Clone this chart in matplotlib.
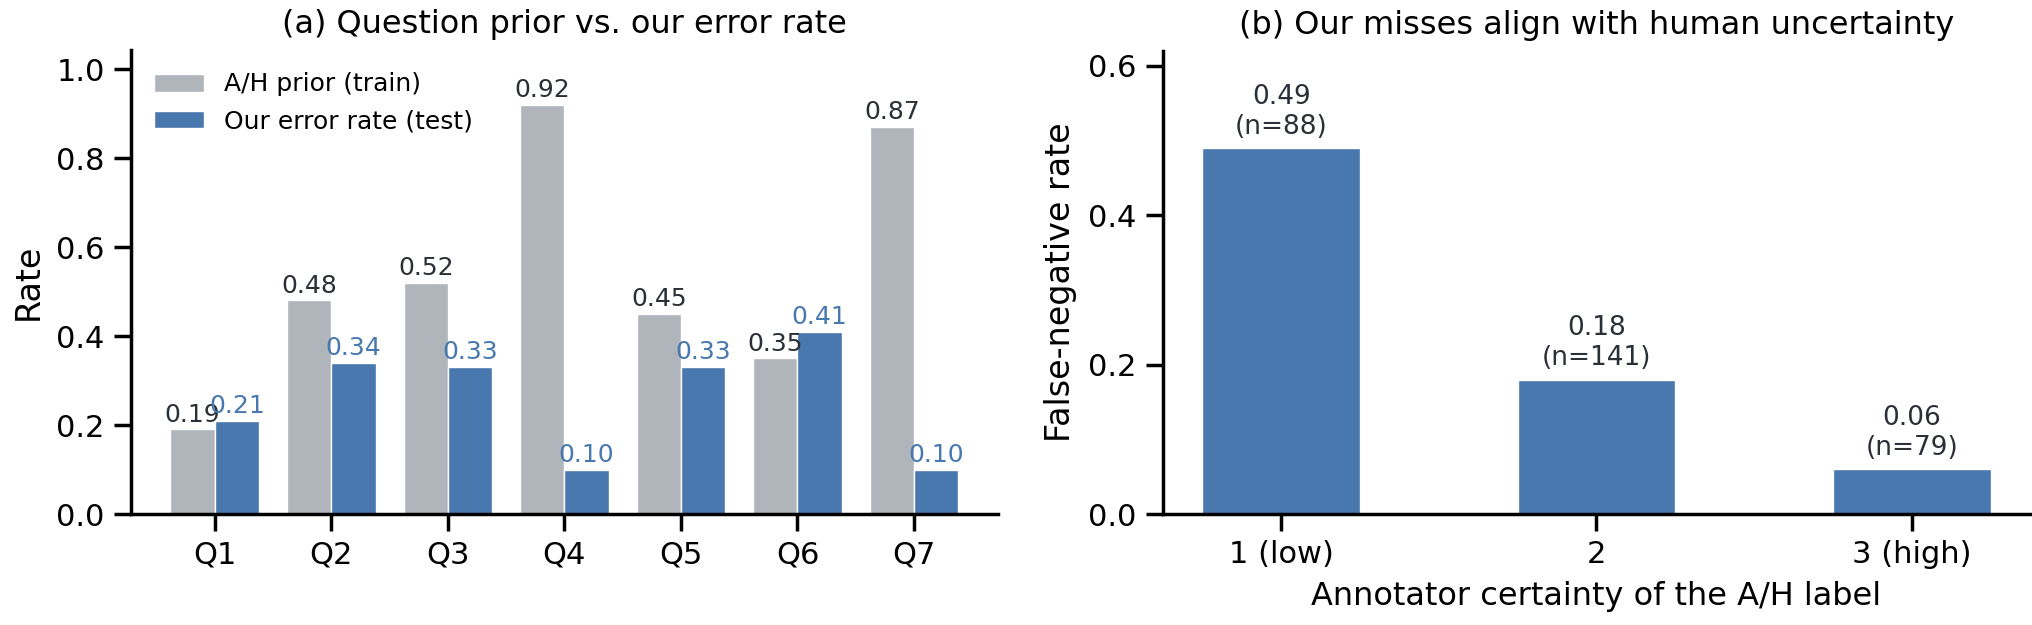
import numpy as np
import matplotlib
matplotlib.use("Agg")
import matplotlib.pyplot as plt

# data
questions = ["Q1", "Q2", "Q3", "Q4", "Q5", "Q6", "Q7"]
prior_train = [0.19, 0.48, 0.52, 0.92, 0.45, 0.35, 0.87]
err_test = [0.21, 0.34, 0.33, 0.10, 0.33, 0.41, 0.10]

certainty = ["1 (low)", "2", "3 (high)"]
fn_rate = [0.49, 0.18, 0.06]
n_items = [88, 141, 79]

GREY = "#b0b5bc"
BLUE = "#4878ae"
TXT = "#2b2f36"

plt.rcParams["font.family"] = "DejaVu Sans"
plt.rcParams["axes.linewidth"] = 1.25
plt.rcParams["xtick.major.size"] = 6
plt.rcParams["ytick.major.size"] = 6
plt.rcParams["xtick.major.width"] = 1.25
plt.rcParams["ytick.major.width"] = 1.25
plt.rcParams["xtick.labelsize"] = 11
plt.rcParams["ytick.labelsize"] = 11

fig = plt.figure(figsize=(10.16, 3.125), dpi=200)
ax1 = fig.add_axes([0.0645, 0.1776, 0.4265, 0.7424])
ax2 = fig.add_axes([0.5723, 0.1776, 0.4267, 0.7408])

# (a)
x = np.arange(len(questions))
w = 0.38
b1 = ax1.bar(x - w/2, prior_train, w, color=GREY, edgecolor="white", linewidth=0.5, label="A/H prior (train)")
b2 = ax1.bar(x + w/2, err_test, w, color=BLUE, edgecolor="white", linewidth=0.5, label="Our error rate (test)")
ax1.bar_label(b1, labels=["%.2f" % v for v in prior_train], padding=1, fontsize=9, color=TXT)
ax1.bar_label(b2, labels=["%.2f" % v for v in err_test], padding=1, fontsize=9, color=BLUE)
ax1.set_xticks(x)
ax1.set_xticklabels(questions)
ax1.set_ylim(0, 1.043)
ax1.set_yticks([0.0, 0.2, 0.4, 0.6, 0.8, 1.0])
ax1.set_ylabel("Rate", fontsize=12)
ax1.set_title("(a) Question prior vs. our error rate", fontsize=11.5)
ax1.legend(loc="upper left", frameon=False, fontsize=9)
ax1.spines["top"].set_visible(False)
ax1.spines["right"].set_visible(False)

# (b)
xb = np.arange(len(certainty))
bars = ax2.bar(xb, fn_rate, 0.5, color=BLUE, edgecolor="white", linewidth=0.5)
labs = ["%.2f\n(n=%d)" % (v, n) for v, n in zip(fn_rate, n_items)]
ax2.bar_label(bars, labels=labs, padding=3, fontsize=9.5, color=TXT)
ax2.set_xticks(xb)
ax2.set_xticklabels(certainty)
ax2.set_ylim(0, 0.62)
ax2.set_yticks([0.0, 0.2, 0.4, 0.6])
ax2.set_ylabel("False-negative rate", fontsize=12)
ax2.set_xlabel("Annotator certainty of the A/H label", fontsize=11.5)
ax2.set_title("(b) Our misses align with human uncertainty", fontsize=11.5)
ax2.spines["top"].set_visible(False)
ax2.spines["right"].set_visible(False)

fig.savefig("out.png", dpi=200)
